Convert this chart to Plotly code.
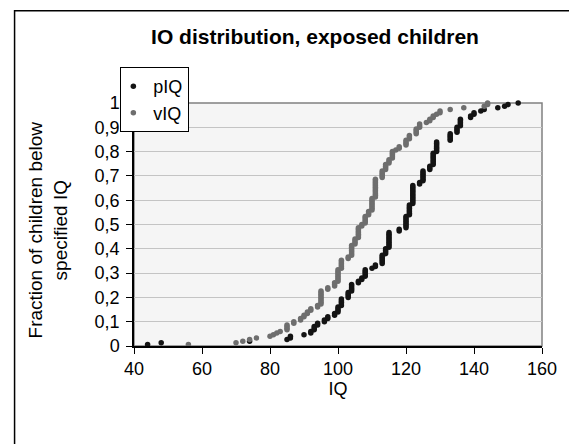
import plotly.graph_objects as go

# Sorted IQ of each child; fraction below = rank / number of children
piq = [44, 48, 74, 85, 86, 86, 90, 92, 92, 93, 93, 93, 94, 94, 96, 96, 97, 97, 99, 99,
       100, 100, 100, 100, 101, 101, 101, 101, 101, 103, 103, 103, 103, 104, 104, 104, 104, 104,
       106, 106, 107, 107, 108, 108, 108, 108, 108, 110, 111, 111,
       113, 113, 113, 113, 113, 113, 114, 114, 114, 114,
       115, 115, 115, 115, 115, 115, 115, 115, 115, 115, 118, 118,
       120, 120, 120, 120, 120, 120, 120, 120, 121, 121, 121, 121, 121, 121, 121,
       122, 122, 122, 122, 122, 122, 122, 122, 122, 122, 122, 122, 124, 124,
       125, 125, 125, 125, 125, 125, 125, 127, 127, 127,
       128, 128, 128, 128, 128, 128, 128, 128, 129, 129, 129, 129, 129, 129, 129,
       133, 133, 133, 133, 133, 135, 135, 135, 135, 136, 136, 136, 136, 136,
       139, 139, 140, 140, 142, 143, 147, 149, 150, 153]

viq = [56, 70, 72, 74, 76, 80, 81, 82, 83, 85, 85, 85, 85, 87, 87, 89, 89, 90, 90, 91, 91,
       92, 92, 94, 94, 95, 95, 95, 95, 95, 95, 95, 95, 95, 97, 97, 99, 99, 99,
       100, 100, 100, 100, 100, 100, 100, 100, 101, 101, 101, 101, 101, 101, 103, 103,
       104, 104, 104, 104, 104, 104, 104, 105, 105, 105, 105,
       106, 106, 106, 106, 106, 106, 106, 107, 107, 108, 108, 108, 108, 108, 109, 109, 109,
       110, 110, 110, 110, 110, 110, 110, 110,
       111, 111, 111, 111, 111, 111, 111, 111, 111, 111, 111, 111,
       113, 113, 113, 113, 113, 114, 114, 114, 114, 115, 115, 115,
       116, 116, 116, 116, 116, 117, 118, 118, 120, 120, 120, 120, 121, 121, 121,
       123, 123, 123, 123, 124, 124, 124, 126, 127, 127, 128, 128, 129, 130, 130,
       133, 137, 143, 144, 144]

series_names = ["pIQ", "vIQ"]
series_colors = ["#141414", "#6e6e6e"]

x_ticks = [40, 60, 80, 100, 120, 140, 160]
y_tickvals = [0, 0.1, 0.2, 0.3, 0.4, 0.5, 0.6, 0.7, 0.8, 0.9, 1]
y_ticktext = ["0", "0,1", "0,2", "0,3", "0,4", "0,5", "0,6", "0,7", "0,8", "0,9", "1"]

FONT = "Liberation Sans, Arial, sans-serif"

fig = go.Figure()
for name, data, color in zip(series_names, [piq, viq], series_colors):
    n = len(data)
    frac = [(i + 1) / n for i in range(n)]
    fig.add_trace(go.Scatter(
        x=data, y=frac, mode="markers", name=name,
        marker=dict(color=color, size=5.5, line=dict(width=0)),
        cliponaxis=False,
    ))

W, H = 569, 444
L, R, T, B = 133.5, 17, 103, 97.5
pw, ph = W - L - R, H - T - B

def px_to_paper_x(px):
    return (px - L) / pw

def px_to_paper_y(py):
    return (H - B - py) / ph

fig.update_layout(
    width=W, height=H,
    margin=dict(l=L, r=R, t=T, b=B, pad=0),
    paper_bgcolor="white",
    plot_bgcolor="#f5f5f5",
    font=dict(family=FONT, size=18, color="black"),
    showlegend=True,
    legend=dict(
        x=px_to_paper_x(119.5), y=px_to_paper_y(67), xanchor="left", yanchor="top",
        bgcolor="white", bordercolor="black", borderwidth=1,
        font=dict(size=18, family=FONT),
        itemwidth=30, indentation=-8,
    ),
    title=dict(
        text="<b>IO distribution, exposed children</b>",
        x=315 / W, xanchor="center", xref="container",
        y=1 - 37 / H, yanchor="middle", yref="container",
        font=dict(size=21, family=FONT),
    ),
    xaxis=dict(
        range=[40, 160], tickvals=x_ticks, ticks="outside", ticklen=6, tickwidth=1,
        tickcolor="black", showline=True, linecolor="black", linewidth=1.5,
        showgrid=False, zeroline=False,
        title=dict(text="IQ", font=dict(size=18), standoff=4),
    ),
    yaxis=dict(
        range=[0, 1], tickvals=y_tickvals, ticktext=y_ticktext, ticks="outside",
        ticklen=6, tickwidth=1, tickcolor="black", showline=True, linecolor="black",
        linewidth=1.5, showgrid=True, gridcolor="#c4c4c4", gridwidth=1, zeroline=False,
        ticklabelstandoff=3,
    ),
    shapes=[
        dict(type="rect", xref="paper", yref="paper", x0=0, x1=1, y0=0, y1=1,
             line=dict(color="#808080", width=1.5), layer="below"),
        dict(type="rect", xref="paper", yref="paper",
             x0=px_to_paper_x(11), x1=px_to_paper_x(650),
             y0=px_to_paper_y(600), y1=px_to_paper_y(10.5),
             line=dict(color="black", width=1.5)),
    ],
    annotations=[
        dict(text="Fraction of children below<br>specified IQ", textangle=-90,
             xref="paper", yref="paper", x=px_to_paper_x(45), y=px_to_paper_y(230),
             xanchor="center", yanchor="middle", showarrow=False,
             font=dict(size=19, family=FONT)),
    ],
)

fig.write_html("out.html")
